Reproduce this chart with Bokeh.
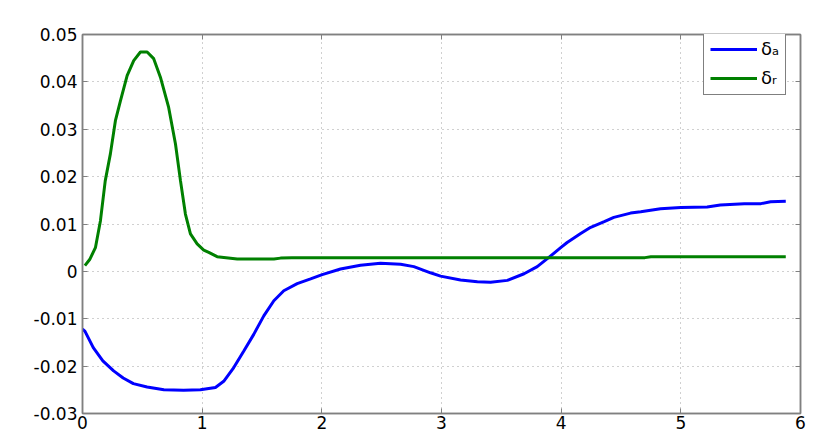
from bokeh.plotting import figure
from bokeh.models import (Range1d, FixedTicker, LinearAxis, Legend, LegendItem,
                          CustomJSTickFormatter)
from bokeh.embed import file_html
from bokeh.resources import INLINE

# ---- data ----
t_a = [0.0, 0.02, 0.09, 0.17, 0.26, 0.34, 0.425, 0.54, 0.68, 0.845, 0.985, 1.111, 1.18,
       1.264, 1.348, 1.431, 1.515, 1.599, 1.682, 1.794, 1.906, 2.003, 2.156, 2.323,
       2.49, 2.658, 2.769, 2.908, 2.992, 3.159, 3.3, 3.41, 3.55, 3.69, 3.80, 3.90,
       3.996, 4.05, 4.163, 4.247, 4.36, 4.44, 4.58, 4.665, 4.83, 5.0, 5.22, 5.33,
       5.53, 5.67, 5.75, 5.877]
delta_a = [-0.0122, -0.0126, -0.0161, -0.0189, -0.0210, -0.0225, -0.0237, -0.0244,
           -0.0250, -0.0251, -0.0250, -0.0245, -0.0232, -0.0203, -0.0168, -0.0133,
           -0.0094, -0.0062, -0.0041, -0.0026, -0.0016, -0.0007, 0.0005, 0.0013,
           0.0017, 0.0015, 0.0010, -0.0003, -0.0010, -0.0018, -0.0022, -0.0023,
           -0.0019, -0.0005, 0.0010, 0.0030, 0.0050, 0.0061, 0.0080, 0.0093, 0.0105,
           0.0114, 0.0123, 0.0126, 0.0132, 0.0135, 0.0136, 0.0140, 0.0143, 0.0143,
           0.0147, 0.0148]

t_r = [0.02, 0.06, 0.108, 0.15, 0.19, 0.233, 0.275, 0.317, 0.373, 0.428, 0.484, 0.54,
       0.595, 0.651, 0.72, 0.777, 0.819, 0.86, 0.902, 0.958, 1.013, 1.055, 1.125,
       1.293, 1.6, 1.655, 1.75, 2.5, 3.5, 4.7, 4.75, 5.877]
delta_r = [0.0012, 0.0025, 0.0050, 0.0107, 0.0191, 0.0248, 0.0318, 0.0360, 0.0413,
           0.0445, 0.0463, 0.0463, 0.0449, 0.0410, 0.0346, 0.0269, 0.0191, 0.0121,
           0.0079, 0.0058, 0.0045, 0.0040, 0.0031, 0.0026, 0.0026, 0.0028, 0.0029,
           0.0029, 0.0029, 0.0029, 0.0031, 0.0031]

x_ticks = [0, 1, 2, 3, 4, 5, 6]
x_labels = ["0", "1", "2", "3", "4", "5", "6"]
y_ticks = [-0.03, -0.02, -0.01, 0, 0.01, 0.02, 0.03, 0.04, 0.05]
y_labels = ["-0.03", "-0.02", "-0.01", "0", "0.01", "0.02", "0.03", "0.04", "0.05"]
series_names = ["δₐ", "δᵣ"]

FONT = "DejaVu Sans"

p = figure(width=820, height=436, output_backend="svg", toolbar_location=None,
           x_range=Range1d(0, 6), y_range=Range1d(-0.03, 0.05),
           min_border_left=82, min_border_right=20, min_border_top=34,
           min_border_bottom=23)
p.background_fill_color = "white"
p.border_fill_color = "white"
p.outline_line_color = "#808080"
p.outline_line_width = 1.5

l1 = p.line(t_a, delta_a, line_color="#0000ff", line_width=3)
l2 = p.line(t_r, delta_r, line_color="#008000", line_width=3)

# axes
for ax, ticks, labels in ((p.xaxis[0], x_ticks, x_labels), (p.yaxis[0], y_ticks, y_labels)):
    ax.ticker = FixedTicker(ticks=ticks)
    ax.major_label_overrides = {k: v for k, v in zip(ticks, labels)}
    ax.major_tick_in = 5
    ax.major_tick_out = 0
    ax.minor_tick_in = 0
    ax.minor_tick_out = 0
    ax.axis_line_color = "#808080"
    ax.axis_line_width = 1.5
    ax.major_tick_line_color = "#808080"
    ax.major_label_text_font = FONT
    ax.major_label_text_font_size = "17px"
    ax.major_label_text_color = "black"
p.xaxis.major_label_standoff = 2
p.yaxis.major_label_standoff = 5

for side, ticks in (("right", y_ticks), ("above", x_ticks)):
    ax = LinearAxis(ticker=FixedTicker(ticks=ticks),
                    formatter=CustomJSTickFormatter(code="return ''"),
                    major_tick_in=5, major_tick_out=0, minor_tick_in=0, minor_tick_out=0,
                    axis_line_color="#808080", axis_line_width=1.5,
                    major_tick_line_color="#808080", major_label_standoff=0)
    ax.major_label_text_font_size = "1px"
    p.add_layout(ax, side)

# grid
p.xgrid.ticker = FixedTicker(ticks=x_ticks)
p.ygrid.ticker = FixedTicker(ticks=y_ticks)
for g in (p.xgrid[0], p.ygrid[0]):
    g.grid_line_color = "#a0a0a0"
    g.grid_line_dash = "1 4"
    g.grid_line_width = 1

legend = Legend(items=[LegendItem(label=series_names[0], renderers=[l1]),
                       LegendItem(label=series_names[1], renderers=[l2])],
                location=(621, 318))
legend.border_line_color = "black"
legend.border_line_width = 1
legend.background_fill_color = "white"
legend.background_fill_alpha = 1
legend.label_text_font = FONT
legend.label_text_font_size = "18px"
legend.label_text_color = "black"
legend.glyph_width = 47
legend.glyph_height = 18
legend.label_height = 18
legend.label_width = 10
legend.spacing = 8
legend.padding = 6
legend.margin = 0
legend.label_standoff = 4
p.add_layout(legend, "center")

open("out.html", "w").write(file_html(p, INLINE))
